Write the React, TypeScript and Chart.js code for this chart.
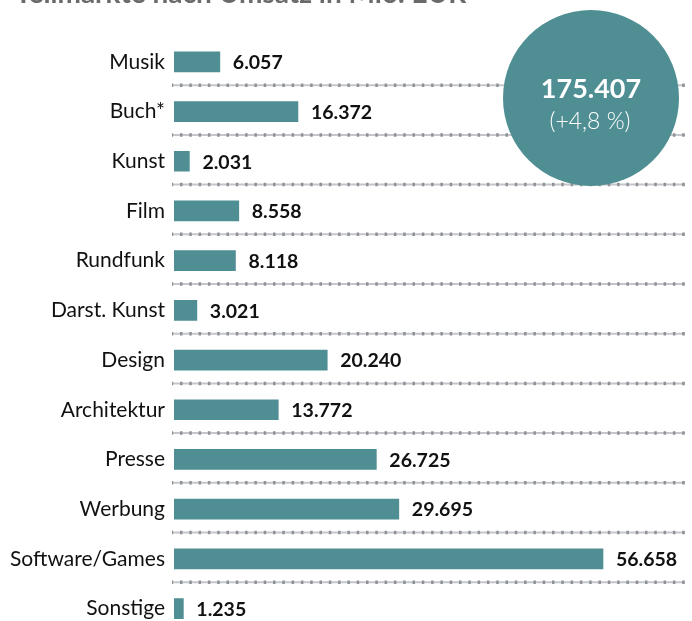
import React, { useEffect, useRef } from "react";
import { Chart, registerables } from "chart.js";

Chart.register(...registerables);

const titleText = "Teilmärkte nach Umsatz in Mio. EUR";
const categories = [
  "Musik",
  "Buch*",
  "Kunst",
  "Film",
  "Rundfunk",
  "Darst. Kunst",
  "Design",
  "Architektur",
  "Presse",
  "Werbung",
  "Software/Games",
  "Sonstige",
];
const revenue = [6057, 16372, 2031, 8558, 8118, 3021, 20240, 13772, 26725, 29695, 56658, 1235];
const totalValue = "175.407";
const totalChange = "(+4,8 %)";

const BAR = "#4f8e93";
const FONT = "Lato, 'Noto Sans', sans-serif";

function fmt(v: number): string {
  const s = Math.round(v).toString();
  return s.replace(/\B(?=(\d{3})+(?!\d))/g, ".");
}

const decorPlugin = {
  id: "decor",
  beforeDatasetsDraw(chart: any) {
    const { ctx, chartArea, scales } = chart;
    const y = scales.y;
    ctx.save();
    for (let i = 0; i < categories.length - 1; i++) {
      const py = (y.getPixelForValue(i) + y.getPixelForValue(i + 1)) / 2 - 1.5;
      const x0 = chartArea.left - 2;
      const x1 = chartArea.right;
      ctx.beginPath();
      ctx.strokeStyle = "#c4c6c9";
      ctx.lineWidth = 2;
      ctx.setLineDash([]);
      ctx.moveTo(x0, py);
      ctx.lineTo(x1, py);
      ctx.stroke();
      ctx.beginPath();
      ctx.strokeStyle = "#8e9297";
      ctx.lineWidth = 3.5;
      ctx.setLineDash([2.5, 6.8]);
      ctx.lineDashOffset = -8;
      ctx.moveTo(x0, py);
      ctx.lineTo(x1, py);
      ctx.stroke();
    }
    ctx.restore();
  },
  afterDatasetsDraw(chart: any) {
    const { ctx } = chart;
    const meta = chart.getDatasetMeta(0);
    ctx.save();
    ctx.font = `bold 19.5px ${FONT}`;
    ctx.fillStyle = "#111111";
    ctx.textAlign = "left";
    ctx.textBaseline = "middle";
    meta.data.forEach((bar: any, i: number) => {
      ctx.fillText(fmt(revenue[i]), bar.x + 13, bar.y + 1);
    });
    ctx.restore();
  },
  afterDraw(chart: any) {
    const { ctx } = chart;
    ctx.save();
    // title (partially cut at top)
    ctx.font = `bold 28px ${FONT}`;
    ctx.fillStyle = "#6a6a6a";
    ctx.textAlign = "left";
    ctx.textBaseline = "alphabetic";
    ctx.fillText(titleText, 15, 3);
    // total circle
    const cx = 591;
    const cy = 98;
    ctx.beginPath();
    ctx.fillStyle = BAR;
    ctx.arc(cx, cy, 88, 0, Math.PI * 2);
    ctx.fill();
    ctx.fillStyle = "#ffffff";
    ctx.textAlign = "center";
    ctx.textBaseline = "middle";
    ctx.font = `bold 27px ${FONT}`;
    ctx.fillText(totalValue, cx, 89);
    ctx.font = `300 23px ${FONT}`;
    ctx.fillText(totalChange, cx - 1, 122);
    ctx.restore();
  },
};

export default function App() {
  const ref = useRef<HTMLCanvasElement>(null);
  useEffect(() => {
    document.body.style.margin = "0";
    const chart = new Chart(ref.current!, {
      type: "bar",
      data: {
        labels: categories,
        datasets: [
          {
            data: revenue,
            backgroundColor: BAR,
            borderWidth: 0,
            barThickness: 20,
          },
        ],
      },
      options: {
        indexAxis: "y",
        animation: false,
        responsive: false,
        maintainAspectRatio: false,
        layout: { padding: { top: 37, bottom: 26.6, left: 0, right: 7 } },
        plugins: {
          legend: { display: false },
          tooltip: { enabled: false },
          title: { display: false },
        },
        scales: {
          x: {
            display: false,
            min: 0,
            max: 67490,
          },
          y: {
            grid: { display: false, drawTicks: false, tickLength: 0 },
            border: { display: false },
            afterFit(scale: any) {
              scale.width = 174;
            },
            ticks: {
              padding: 9,
              color: "#111111",
              font: { family: FONT, size: 21 },
            },
          },
        },
      },
      plugins: [decorPlugin],
    });
    return () => chart.destroy();
  }, []);
  return (
    <div style={{ width: 692, height: 621, overflow: "hidden", background: "#ffffff" }}>
      <canvas ref={ref} width={692} height={660} style={{ display: "block" }} />
    </div>
  );
}
